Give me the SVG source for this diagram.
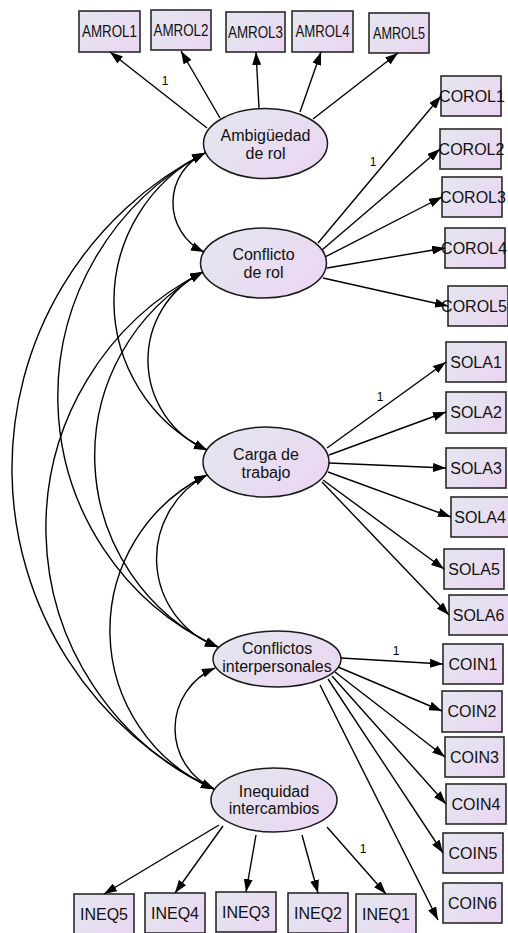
<svg xmlns="http://www.w3.org/2000/svg" width="508" height="933" viewBox="0 0 508 933">
<defs>
<linearGradient id="fillg" x1="0" y1="0.2" x2="1" y2="0.8">
<stop offset="0" stop-color="#e3e6ef"/>
<stop offset="1" stop-color="#ebd6f2"/>
</linearGradient>
<marker id="ah" viewBox="0 0 13 9" refX="13" refY="4.5" markerWidth="13" markerHeight="9" orient="auto-start-reverse" markerUnits="userSpaceOnUse">
<path d="M0,0 L13,4.5 L0,9 z" fill="#000"/>
</marker>
<style>
.box{fill:url(#fillg);stroke:#2a2a2a;stroke-width:1.6}
.lat{fill:url(#fillg);stroke:#1a1a1a;stroke-width:1.5}
text{font-family:"Liberation Sans",Arial,sans-serif;font-size:16px;fill:#111;text-anchor:middle}
.lbl{font-size:12px;fill:#000}
.ln{fill:none;stroke:#000;stroke-width:1.4;marker-end:url(#ah)}
.cv{fill:none;stroke:#000;stroke-width:1.4;marker-start:url(#ah);marker-end:url(#ah)}
</style>
</defs>
<rect width="508" height="933" fill="#fff"/>

<g id="amb"><ellipse class="lat" cx="265.5" cy="143.5" rx="62" ry="35"/><text x="265.5" y="140.5">Ambigüedad</text><text x="265.5" y="158.5">de rol</text></g>
<g id="conf"><ellipse class="lat" cx="263.5" cy="263" rx="63" ry="35"/><text x="263.5" y="260">Conflicto</text><text x="263.5" y="278">de rol</text></g>
<g id="carga"><ellipse class="lat" cx="266" cy="462" rx="63" ry="35"/><text x="266" y="459.5">Carga de</text><text x="266" y="477.5">trabajo</text></g>
<g id="confint"><ellipse class="lat" cx="277" cy="659" rx="64" ry="28"/><text x="277" y="654">Conflictos</text><text x="277" y="672">interpersonales</text></g>
<g id="ineq"><ellipse class="lat" cx="274" cy="800" rx="63" ry="32"/><text x="274" y="796.5">Inequidad</text><text x="274" y="814">intercambios</text></g>

<g id="AMROL1"><rect class="box" x="79" y="11" width="61" height="41"/><text x="109.5" y="37" textLength="55" lengthAdjust="spacingAndGlyphs">AMROL1</text></g>
<g id="AMROL2"><rect class="box" x="151" y="10" width="60" height="40"/><text x="181" y="36" textLength="55" lengthAdjust="spacingAndGlyphs">AMROL2</text></g>
<g id="AMROL3"><rect class="box" x="226" y="12" width="59" height="40"/><text x="255.5" y="38" textLength="55" lengthAdjust="spacingAndGlyphs">AMROL3</text></g>
<g id="AMROL4"><rect class="box" x="292" y="11" width="61" height="41"/><text x="322.5" y="37" textLength="54" lengthAdjust="spacingAndGlyphs">AMROL4</text></g>
<g id="AMROL5"><rect class="box" x="369" y="13" width="60" height="40"/><text x="399" y="39" textLength="52" lengthAdjust="spacingAndGlyphs">AMROL5</text></g>

<g id="COROL1"><rect class="box" x="441" y="76" width="60" height="40"/><text x="472" y="101.5">COROL1</text></g>
<g id="COROL2"><rect class="box" x="440" y="129" width="61" height="40"/><text x="471.5" y="154.5">COROL2</text></g>
<g id="COROL3"><rect class="box" x="442" y="177" width="60" height="40"/><text x="473" y="202.5">COROL3</text></g>
<g id="COROL4"><rect class="box" x="445" y="228" width="60" height="40"/><text x="474" y="253.5">COROL4</text></g>
<g id="COROL5"><rect class="box" x="448" y="286" width="60" height="40"/><text x="474" y="311.5">COROL5</text></g>

<g id="SOLA1"><rect class="box" x="446" y="342" width="60" height="40"/><text x="476" y="367.5">SOLA1</text></g>
<g id="SOLA2"><rect class="box" x="446" y="392" width="60" height="41"/><text x="476" y="418">SOLA2</text></g>
<g id="SOLA3"><rect class="box" x="446" y="448" width="60" height="40"/><text x="476" y="473.5">SOLA3</text></g>
<g id="SOLA4"><rect class="box" x="451" y="497" width="60" height="40"/><text x="480" y="522.5">SOLA4</text></g>
<g id="SOLA5"><rect class="box" x="444" y="549" width="60" height="40"/><text x="474" y="574.5">SOLA5</text></g>
<g id="SOLA6"><rect class="box" x="449" y="595" width="60" height="40"/><text x="478.5" y="620.5">SOLA6</text></g>

<g id="COIN1"><rect class="box" x="443" y="644" width="60" height="40"/><text x="473" y="669.5">COIN1</text></g>
<g id="COIN2"><rect class="box" x="442" y="691" width="60" height="41"/><text x="472" y="717">COIN2</text></g>
<g id="COIN3"><rect class="box" x="445" y="737" width="59" height="40"/><text x="474.5" y="762.5">COIN3</text></g>
<g id="COIN4"><rect class="box" x="446" y="784" width="60" height="40"/><text x="476" y="809.5">COIN4</text></g>
<g id="COIN5"><rect class="box" x="443" y="833" width="60" height="40"/><text x="473" y="858.5">COIN5</text></g>
<g id="COIN6"><rect class="box" x="443" y="883" width="59" height="40"/><text x="472.5" y="908.5">COIN6</text></g>

<g id="INEQ5"><rect class="box" x="74" y="894" width="60" height="40"/><text x="104" y="919.5">INEQ5</text></g>
<g id="INEQ4"><rect class="box" x="145" y="893" width="60" height="40"/><text x="175" y="918.5">INEQ4</text></g>
<g id="INEQ3"><rect class="box" x="216" y="892" width="60" height="40"/><text x="246" y="917.5">INEQ3</text></g>
<g id="INEQ2"><rect class="box" x="288" y="893" width="60" height="40"/><text x="318" y="918.5">INEQ2</text></g>
<g id="INEQ1"><rect class="box" x="356" y="894" width="60" height="40"/><text x="386" y="919.5">INEQ1</text></g>

<g id="connectors">
<path class="ln" d="M207,128 L110,52"/>
<path class="ln" d="M220,118 L181,51"/>
<path class="ln" d="M259,108 L256,52"/>
<path class="ln" d="M300,112 L321,52"/>
<path class="ln" d="M313,119 L398,53"/>

<path class="ln" d="M318,243 L441,96"/>
<path class="ln" d="M322,250 L440,149"/>
<path class="ln" d="M325,257 L442,197"/>
<path class="ln" d="M327,268 L445,248"/>
<path class="ln" d="M323,278 L448,306"/>

<path class="ln" d="M327,448 L446,362"/>
<path class="ln" d="M329,455 L446,412"/>
<path class="ln" d="M329,463 L446,468"/>
<path class="ln" d="M328,472 L451,517"/>
<path class="ln" d="M323,480 L444,569"/>
<path class="ln" d="M322,482 L449,615"/>

<path class="ln" d="M341,658 L443,664"/>
<path class="ln" d="M338,667 L442,711"/>
<path class="ln" d="M335,672 L445,757"/>
<path class="ln" d="M332,676 L446,804"/>
<path class="ln" d="M328,679 L443,853"/>
<path class="ln" d="M320,685 L438,920"/>

<path class="ln" d="M219,825 L104,894"/>
<path class="ln" d="M223,826 L175,893"/>
<path class="ln" d="M256,835 L246,892"/>
<path class="ln" d="M302,835 L318,893"/>
<path class="ln" d="M327,827 L386,894"/>

<path class="cv" d="M205,153 A54.6,54.6 0 0 0 204,252"/>
<path class="cv" d="M205,153 A165.8,165.8 0 0 0 207,450"/>
<path class="cv" d="M205,153 A275.5,275.5 0 0 0 218,647"/>
<path class="cv" d="M205,153 A354.8,354.8 0 0 0 214,789"/>
<path class="cv" d="M203,272 A98,98 0 0 0 207,450"/>
<path class="cv" d="M203,272 A210,210 0 0 0 218,647"/>
<path class="cv" d="M203,272 A286.9,286.9 0 0 0 214,789"/>
<path class="cv" d="M207,475 A94.4,94.4 0 0 0 218,647"/>
<path class="cv" d="M207,475 A172.9,172.9 0 0 0 214,789"/>
<path class="cv" d="M215,668 A66.1,66.1 0 0 0 214,789"/>

<text class="lbl" x="165" y="85">1</text>
<text class="lbl" x="373" y="166">1</text>
<text class="lbl" x="380" y="401">1</text>
<text class="lbl" x="396" y="655">1</text>
<text class="lbl" x="363" y="853">1</text>
</g>
</svg>
